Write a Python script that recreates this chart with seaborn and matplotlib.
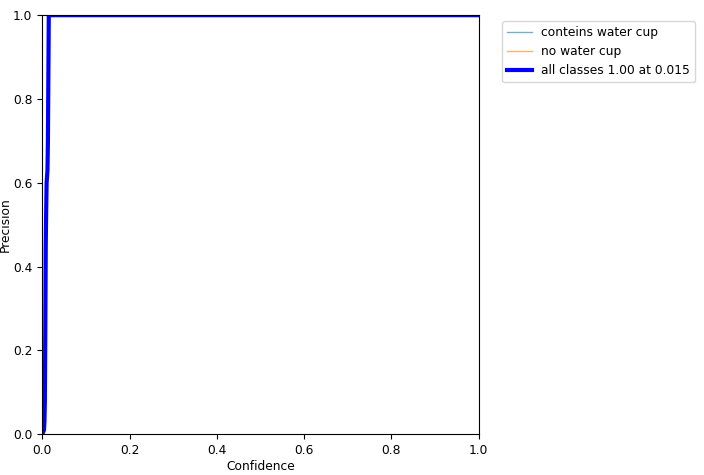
import numpy as np
import pandas as pd
import matplotlib
matplotlib.use("Agg")
import matplotlib.pyplot as plt
import seaborn as sns

# confidence / precision curves
conf_cup = [0.0, 0.003, 0.005, 0.006, 0.007, 0.008, 0.009, 0.010, 0.012, 0.013, 0.014, 1.0]
prec_cup = [0.0, 0.01, 0.04, 0.15, 0.35, 0.50, 0.58, 0.62, 0.66, 0.85, 1.0, 1.0]

conf_nocup = [0.0, 0.005, 0.007, 0.008, 0.009, 0.010, 0.011, 0.012, 0.014, 0.016, 1.0]
prec_nocup = [0.0, 0.01, 0.05, 0.12, 0.26, 0.45, 0.55, 0.60, 0.70, 1.0, 1.0]

conf_all = [0.0, 0.004, 0.005, 0.006, 0.007, 0.008, 0.009, 0.010, 0.012, 0.013, 0.014, 0.015, 1.0]
prec_all = [0.0, 0.01, 0.03, 0.08, 0.25, 0.45, 0.53, 0.60, 0.63, 0.70, 0.85, 1.0, 1.0]

labels = ["conteins water cup", "no water cup", "all classes 1.00 at 0.015"]

plt.rcParams["font.size"] = 8.8

fig, ax = plt.subplots(figsize=(7.04, 4.75), dpi=100)

sns.lineplot(x=conf_cup, y=prec_cup, ax=ax, linewidth=1, color="#1f77b4",
             alpha=0.6, label=labels[0], sort=False)
sns.lineplot(x=conf_nocup, y=prec_nocup, ax=ax, linewidth=1, color="#ff7f0e",
             alpha=0.6, label=labels[1], sort=False)
sns.lineplot(x=conf_all, y=prec_all, ax=ax, linewidth=3, color="blue",
             label=labels[2], sort=False)

ax.set_xlim(0, 1)
ax.set_ylim(0, 1)
ax.set_xlabel("Confidence", labelpad=2)
ax.set_ylabel("Precision", labelpad=1)
ax.legend(bbox_to_anchor=(1.04, 1), loc="upper left")

plt.subplots_adjust(left=0.06, right=0.68, top=0.968, bottom=0.086)
fig.savefig("out.png", dpi=100)
